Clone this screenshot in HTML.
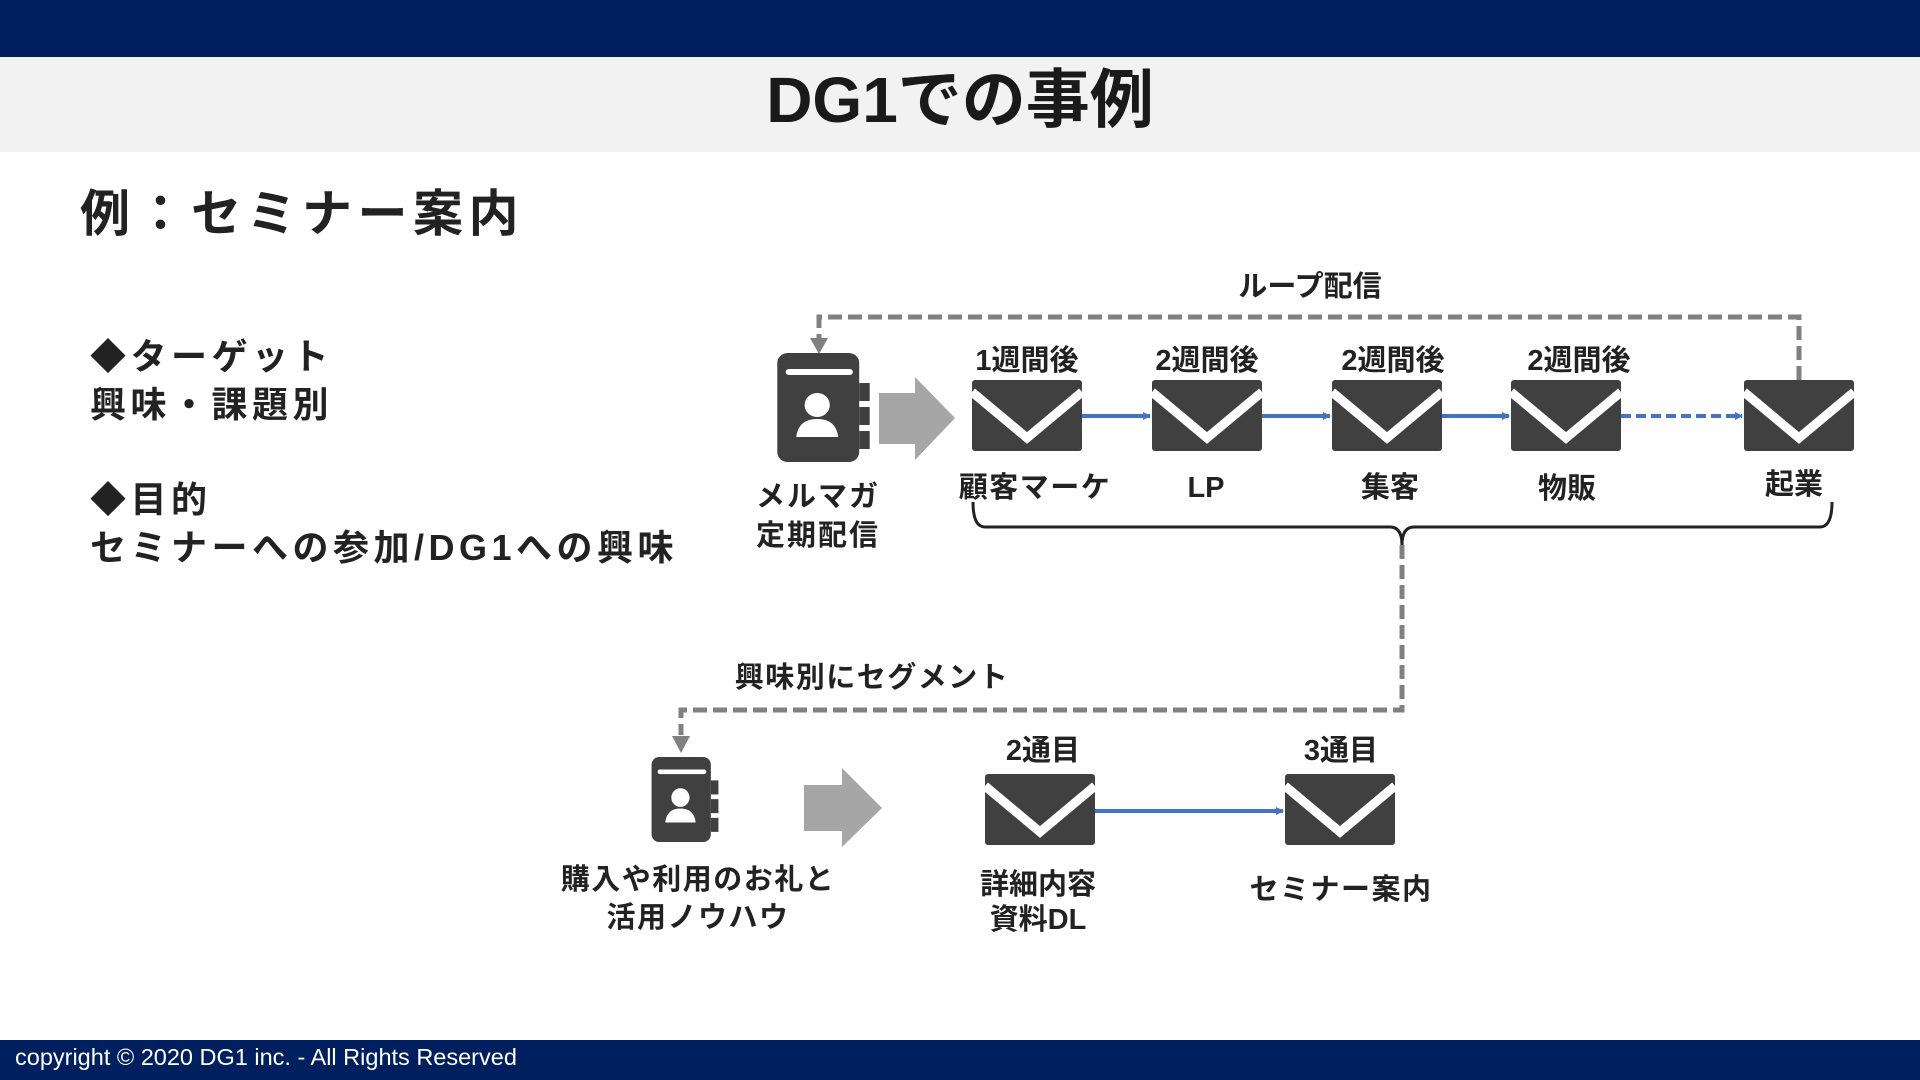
<!DOCTYPE html>
<html><head><meta charset="utf-8"><style>
html,body{margin:0;padding:0;background:#fff}
body{width:1920px;height:1080px;overflow:hidden;position:relative;font-family:"Liberation Sans","Noto Sans CJK JP",sans-serif}
.t{position:absolute;font-weight:bold;color:#222;white-space:nowrap}
</style></head><body>
<div style="position:absolute;left:0;top:0;width:1920px;height:57px;background:#001f5f"></div>
<div style="position:absolute;left:0;top:57px;width:1920px;height:95px;background:#f2f2f2"></div>
<div class="t" style="left:0;width:1920px;text-align:center;top:62px;font-size:64px;line-height:76px;color:#1a1a1a">DG1での事例</div>
<div class="t" style="left:80px;top:184px;font-size:50px;line-height:60px;letter-spacing:5.5px">例：セミナー案内</div>
<div class="t" style="left:90px;top:333px;font-size:36px;line-height:48px;letter-spacing:4.5px">◆ターゲット<br>興味・課題別</div>
<div class="t" style="left:90px;top:476px;font-size:36px;line-height:48px;letter-spacing:4.5px">◆目的<br>セミナーへの参加/DG1への興味</div>
<div style="position:absolute;left:0;top:1040px;width:1920px;height:40px;background:#001f5f"></div>
<div style="position:absolute;left:15px;top:1042px;font-size:23.5px;line-height:30px;color:#fff">copyright © 2020 DG1 inc. - All Rights Reserved</div>
<svg width="1920" height="1080" style="position:absolute;left:0;top:0" xmlns="http://www.w3.org/2000/svg">
<defs>
<g id="env"><rect x="0" y="0" width="110" height="71" rx="3" fill="#404040"/><polyline points="0,12 55,58 110,12" fill="none" stroke="#fff" stroke-width="9"/></g>
<g id="card"><rect x="6" y="0" width="78" height="109" rx="10" fill="#404040"/><rect x="14" y="16" width="64" height="6" rx="3" fill="#fff"/><rect x="84" y="30" width="10" height="18" fill="#404040"/><rect x="84" y="54" width="10" height="18" fill="#404040"/><rect x="84" y="78" width="10" height="18" fill="#404040"/><circle cx="44" cy="52" r="12" fill="#fff"/><path d="M24 84 Q26 66 44 66 Q62 66 64 84 Z" fill="#fff"/></g>
<marker id="ab" markerWidth="8" markerHeight="8" refX="7" refY="4" orient="auto" markerUnits="userSpaceOnUse"><path d="M0 0 L8 4 L0 8Z" fill="#4472c4"/></marker>
</defs>
<g font-family="Liberation Sans, Noto Sans CJK JP, sans-serif" font-weight="bold" fill="#222" text-anchor="middle">
<polyline points="1799,380 1799,317 819,317 819,340" fill="none" stroke="#808080" stroke-width="5" stroke-dasharray="14,6"/>
<path d="M810 338 L828 338 L819 354Z" fill="#808080"/>
<text x="1310" y="296" font-size="29">ループ配信</text>
<g transform="translate(771,353) scale(1.05,1)"><use href="#card"/></g>
<path d="M879 393 L915 393 L915 377 L955 418 L915 460 L915 444 L879 444Z" fill="#a6a6a6"/>
<text x="818" y="506" font-size="29" letter-spacing="2">メルマガ</text><text x="818" y="545" font-size="29" letter-spacing="2">定期配信</text>
<use href="#env" x="972" y="380"/><use href="#env" x="1152" y="380"/><use href="#env" x="1332" y="380"/><use href="#env" x="1511" y="380"/><use href="#env" x="1744" y="380"/>
<g font-size="29"><text x="1027" y="370">1週間後</text><text x="1207" y="370">2週間後</text><text x="1393" y="370">2週間後</text><text x="1579" y="370">2週間後</text>
<text x="1035" y="497" letter-spacing="1.5">顧客マーケ</text><text x="1206" y="497">LP</text><text x="1390" y="497">集客</text><text x="1567" y="498">物販</text><text x="1794" y="494">起業</text></g>
<g stroke="#4472c4" stroke-width="4" fill="none">
<line x1="1082" y1="416" x2="1150" y2="416" marker-end="url(#ab)"/>
<line x1="1262" y1="416" x2="1330" y2="416" marker-end="url(#ab)"/>
<line x1="1442" y1="416" x2="1509" y2="416" marker-end="url(#ab)"/>
<line x1="1621" y1="416" x2="1742" y2="416" stroke-dasharray="10,5" marker-end="url(#ab)"/>
</g>
<path d="M973 502 Q973 527 985 527 L1390 527 Q1402 527 1402 545 Q1402 527 1414 527 L1820 527 Q1832 527 1832 502" fill="none" stroke="#222" stroke-width="3"/>
<polyline points="1402,545 1402,710 681,710 681,735" fill="none" stroke="#808080" stroke-width="5" stroke-dasharray="14,6"/>
<path d="M672 736 L690 736 L681 753Z" fill="#808080"/>
<text x="872" y="687" font-size="29" letter-spacing="1.5">興味別にセグメント</text>
<g transform="translate(647,757) scale(0.76,0.78)"><use href="#card"/></g>
<path d="M804 785 L842 785 L842 768 L882 808 L842 847 L842 831 L804 831Z" fill="#a6a6a6"/>
<use href="#env" x="985" y="774"/><use href="#env" x="1285" y="774"/>
<line x1="1095" y1="811" x2="1283" y2="811" stroke="#4472c4" stroke-width="4" marker-end="url(#ab)"/>
<g font-size="29"><text x="1043" y="760">2通目</text><text x="1341" y="760">3通目</text>
<text x="698" y="889" letter-spacing="1.5">購入や利用のお礼と</text><text x="698" y="927" letter-spacing="1.5">活用ノウハウ</text>
<text x="1038" y="894">詳細内容</text><text x="1038" y="929">資料DL</text>
<text x="1341" y="899" letter-spacing="1.5">セミナー案内</text></g>
</g>
</svg>
</body></html>
